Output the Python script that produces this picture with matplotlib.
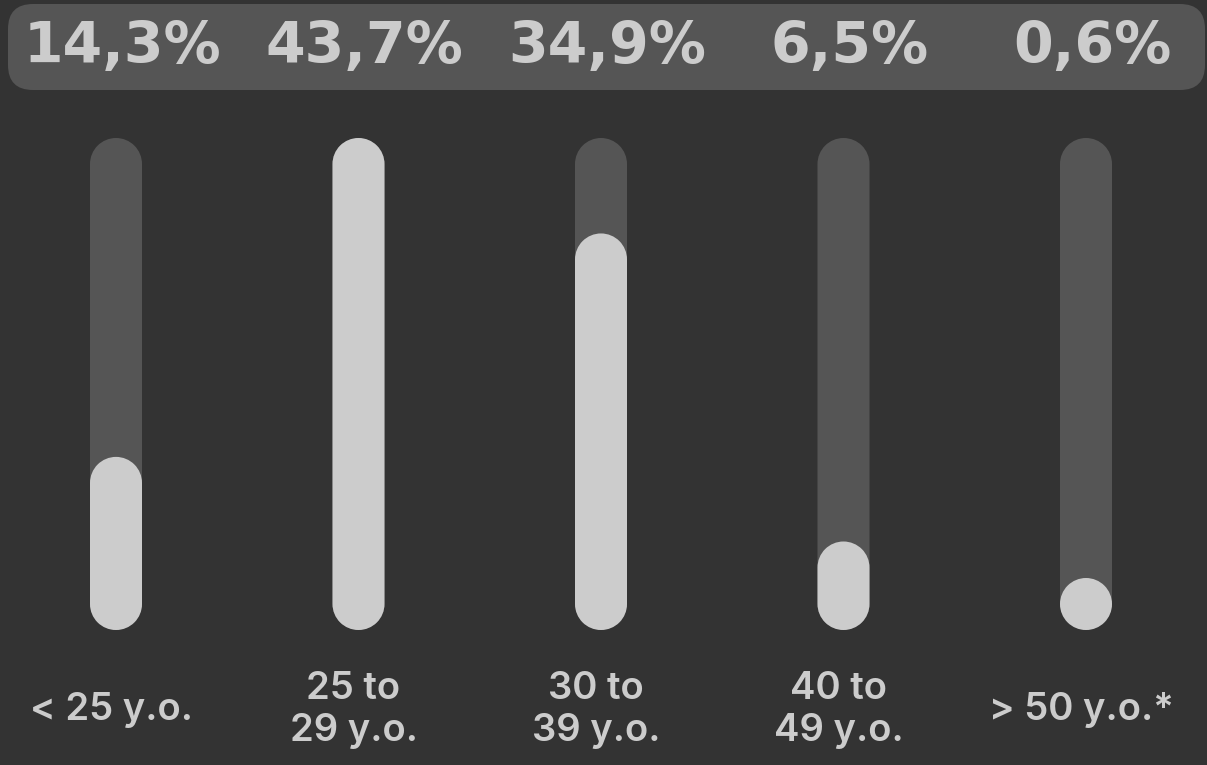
import numpy as np
import matplotlib.pyplot as plt
from matplotlib.patches import FancyBboxPatch, PathPatch
from matplotlib.path import Path

# data
groups = ["< 25 y.o.", "25 to\n29 y.o.", "30 to\n39 y.o.", "40 to\n49 y.o.", "> 50 y.o.*"]
shares = [14.3, 43.7, 34.9, 6.5, 0.6]
share_labels = ["14,3%", "43,7%", "34,9%", "6,5%", "0,6%"]

BG = "#333333"
TRACK = "#555555"
FILL = "#cccccc"

W, H = 1207, 765
fig = plt.figure(figsize=(W / 100, H / 100), dpi=100, facecolor=BG)
ax = fig.add_axes([0, 0, 1, 1])
ax.set_xlim(0, W)
ax.set_ylim(H, 0)
ax.set_aspect("equal")
ax.axis("off")

# layout (pixels)
x_first, x_step = 116, 242.5
bar_w = 52
bar_top, bar_bot = 138, 630
offset = 18  # bars start a little above zero
vmax = max(shares)


def bar_height(v):
    h = offset + v / vmax * (bar_bot - bar_top - offset)
    return max(h, bar_w)


def pill(x, y0, y1, color):
    # one closed path: half circle on top, half circle at the bottom
    r = bar_w / 2
    top = Path.arc(180, 360)
    bot = Path.arc(0, 180)
    v_top = top.vertices * r + [x, y0 + r]
    v_bot = bot.vertices * r + [x, y1 - r]
    c_bot = bot.codes.copy()
    c_bot[0] = Path.LINETO
    verts = np.vstack([v_top, v_bot, v_top[:1]])
    codes = np.concatenate([top.codes, c_bot, [Path.CLOSEPOLY]])
    ax.add_patch(PathPatch(Path(verts, codes), fc=color, ec="none"))


# top band
band = FancyBboxPatch((8 + 25, 4 + 25), 1197 - 50, 86 - 50,
                      boxstyle="round,pad=25,rounding_size=25",
                      fc=TRACK, ec="none")
ax.add_patch(band)

for i, (g, v, lab) in enumerate(zip(groups, shares, share_labels)):
    x = x_first + i * x_step
    pill(x, bar_top, bar_bot, TRACK)
    pill(x, bar_bot - bar_height(v), bar_bot, FILL)
    ax.text(x + 6, 47, lab, ha="center", va="center", color=FILL,
            fontsize=41, fontweight="heavy", family="DejaVu Sans")
    ax.text(x - 5, 710, g, ha="center", va="center", color=FILL,
            fontsize=27.5, fontweight="semibold", family="Inter",
            multialignment="center", linespacing=1.22)

fig.savefig("out.png", dpi=100, facecolor=BG)
